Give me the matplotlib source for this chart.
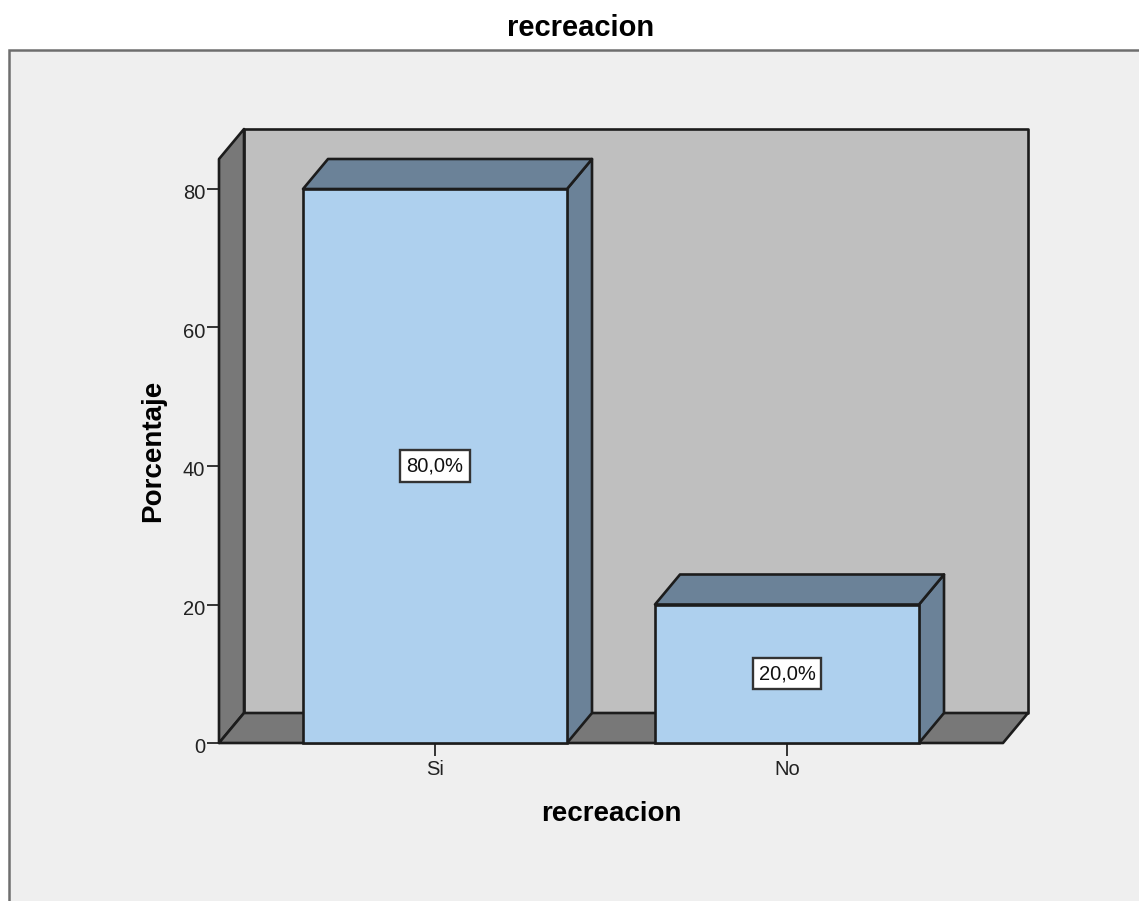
import matplotlib
matplotlib.use("Agg")
import matplotlib.pyplot as plt
from matplotlib.patches import Polygon, Rectangle
from matplotlib.transforms import ScaledTranslation

categories = ["Si", "No"]
percent = [80.0, 20.0]
bar_labels = ["80,0%", "20,0%"]
y_ticks = [0, 20, 40, 60, 80]

W, H = 1139, 901
plt.rcParams["font.family"] = ["Liberation Sans", "DejaVu Sans"]

EDGE = "#1c1c1c"
WALL = "#bfbfbf"
SIDE = "#787878"
BAR = "#aed0ee"
BAR_DARK = "#6b8298"

fig = plt.figure(figsize=(W / 100, H / 100), dpi=100, facecolor="white")

# grey chart panel, runs off the right and bottom of the image
fig.add_artist(Rectangle((9 / W, -0.1), 1.2, 0.1 + (H - 50) / H,
                         transform=fig.transFigure, facecolor="#efefef",
                         edgecolor="#6e6e6e", linewidth=1.8, zorder=-1))

ax = fig.add_axes([219 / W, (H - 743) / H, 784 / W, 554 / H])
ax.set_xlim(-216 / 352, 1 + 216 / 352)
ax.set_ylim(0, 80)
ax.patch.set_visible(False)
for s in ax.spines.values():
    s.set_visible(False)

# depth of the fake 3d box, in data units
dx = 25 / 352
dy = 30 / 6.925
x0, x1 = ax.get_xlim()
top = 84.33


def face(pts, color, z):
    ax.add_patch(Polygon(pts, closed=True, facecolor=color, edgecolor=EDGE,
                         linewidth=1.9, joinstyle="round", clip_on=False, zorder=z))


face([(x0 + dx, dy), (x1 + dx, dy), (x1 + dx, top + dy), (x0 + dx, top + dy)], WALL, 1)
face([(x0, 0), (x0 + dx, dy), (x0 + dx, top + dy), (x0, top)], SIDE, 2)
face([(x0, 0), (x1, 0), (x1 + dx, dy), (x0 + dx, dy)], SIDE, 2)

xs = range(len(categories))
width = 0.75
for i, v in zip(xs, percent):
    l, r = i - width / 2, i + width / 2
    face([(r, 0), (r + dx, dy), (r + dx, v + dy), (r, v)], BAR_DARK, 3)
    face([(l, v), (r, v), (r + dx, v + dy), (l + dx, v + dy)], BAR_DARK, 3)

ax.bar(xs, percent, width=width, color=BAR, edgecolor=EDGE, linewidth=1.9,
       zorder=4, clip_on=False)

for i, v, t in zip(xs, percent, bar_labels):
    ax.text(i, v / 2, t, ha="center", va="center", fontsize=14.5, color="#111111", zorder=6,
            bbox=dict(boxstyle="square,pad=0.3", facecolor="white", edgecolor="#333333",
                      linewidth=1.7))

ax.set_xticks(list(xs), categories)
ax.set_yticks(y_ticks)
ax.tick_params(axis="x", length=9, width=1.4, color="#333333", labelsize=14.5,
               labelcolor="#222222", pad=3.5)
ax.tick_params(axis="y", length=8.5, width=1.4, color="#333333", labelsize=14.5,
               labelcolor="#222222", pad=1.5)
for lab in ax.get_yticklabels():
    lab.set_transform(lab.get_transform() + ScaledTranslation(0, -2 / 72, fig.dpi_scale_trans))

fig.text(581 / W, 1 - 28 / H, "recreacion", ha="center", va="center",
         fontsize=21, fontweight="bold", color="black")
fig.text(611 / W, 1 - 814 / H, "recreacion", ha="center", va="center",
         fontsize=20, fontweight="bold", color="black")
fig.text(153 / W, 1 - 451 / H, "Porcentaje", ha="center", va="center", rotation=90,
         fontsize=20, fontweight="bold", color="black")

fig.savefig("out.png", dpi=100)
